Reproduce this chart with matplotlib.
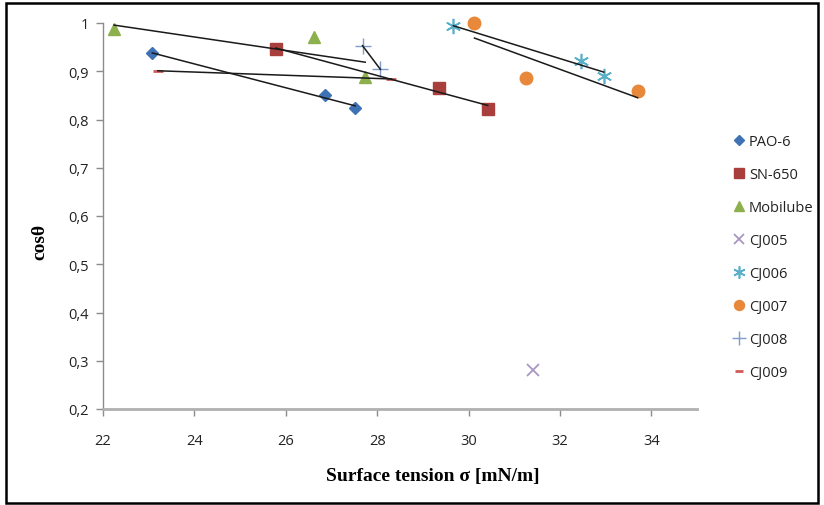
import matplotlib
matplotlib.use("Agg")
import matplotlib.pyplot as plt
import numpy as np
from matplotlib.patches import Rectangle

# Data
pao6_x = [23.08, 26.85, 27.52]
pao6_y = [0.937, 0.851, 0.823]
sn650_x = [25.78, 29.35, 30.42]
sn650_y = [0.946, 0.866, 0.822]
mob_x = [22.24, 26.61, 27.74]
mob_y = [0.988, 0.972, 0.889]
cj005_x = [31.40]
cj005_y = [0.281]
cj006_x = [29.67, 32.47, 32.96]
cj006_y = [0.993, 0.921, 0.891]
cj007_x = [30.13, 31.25, 33.70]
cj007_y = [0.999, 0.886, 0.859]
cj008_x = [27.68, 28.07]
cj008_y = [0.953, 0.904]
cj009_x = [23.20, 28.31]
cj009_y = [0.901, 0.884]

x_ticks = [22, 24, 26, 28, 30, 32, 34]
y_ticks = [0.2, 0.3, 0.4, 0.5, 0.6, 0.7, 0.8, 0.9, 1.0]
y_labels = ["0,2", "0,3", "0,4", "0,5", "0,6", "0,7", "0,8", "0,9", "1"]

fig = plt.figure(figsize=(8.24, 5.06), dpi=100)
ax = fig.add_axes([103/824, 1-410/506, (697-103)/824, (410-24)/506])

series = [
    ("PAO-6", pao6_x, pao6_y, dict(marker="D", color="#3F72B5", ms=6.5, mec="#3F72B5"), True),
    ("SN-650", sn650_x, sn650_y, dict(marker="s", color="#A83F3C", ms=9, mec="#A83F3C"), True),
    ("Mobilube", mob_x, mob_y, dict(marker="^", color="#8DB04F", ms=9, mec="#8DB04F"), True),
    ("CJ005", cj005_x, cj005_y, dict(marker="x", color="#A897C4", ms=9, mew=1.3), False),
    ("CJ006", cj006_x, cj006_y, dict(marker=(6, 2, 0), color="#5AAFC9", ms=11, mew=1.2), True),
    ("CJ007", cj007_x, cj007_y, dict(marker="o", color="#E8883A", ms=9, mec="#E8883A"), True),
    ("CJ008", cj008_x, cj008_y, dict(marker="+", color="#7F9CCB", ms=12, mew=1.0), True),
    ("CJ009", cj009_x, cj009_y, dict(marker="_", color="#D05A5A", ms=7, mew=2), True),
]

for name, xs, ys, style, trend in series:
    ax.plot(xs, ys, linestyle="none", label=name, **style)

for name, xs, ys, style, trend in series:
    if trend and len(xs) >= 2:
        xa = np.array(xs); ya = np.array(ys)
        k, b = np.polyfit(xa, ya, 1)
        xx = np.array([xa.min(), xa.max()])
        ax.plot(xx, k*xx + b, color="#1a1a1a", lw=1.1, zorder=3)

ax.set_xlim(22, 35)
ax.set_ylim(0.2, 1.0)
ax.set_xticks(x_ticks)
ax.set_xticklabels([str(t) for t in x_ticks])
ax.set_yticks(y_ticks)
ax.set_yticklabels(y_labels)

for s in ["top", "right"]:
    ax.spines[s].set_visible(False)
ax.spines["left"].set_color("#8c8c8c")
ax.spines["left"].set_linewidth(1.0)
ax.spines["bottom"].set_color("#b0b0b0")
ax.spines["bottom"].set_linewidth(2.0)
ax.tick_params(axis="both", colors="#8c8c8c", length=5, width=1.0,
               labelcolor="#222222", labelsize=10.5)
ax.tick_params(axis="x", pad=12)
ax.tick_params(axis="y", pad=5)
for lab in ax.get_xticklabels() + ax.get_yticklabels():
    lab.set_family("Open Sans")
for l in ax.lines:
    l.set_clip_on(False)

leg = ax.legend(loc="upper left", bbox_to_anchor=((727-103)/(697-103), 1-(129-24)/386),
                frameon=False, handlelength=0.8, handletextpad=0.3,
                labelspacing=1.24, prop={"family": "Open Sans", "size": 10.5},
                borderaxespad=0, markerscale=0.8)
for t in leg.get_texts():
    t.set_color("#222222")

fig.text(433/824, 1-477/506, "Surface tension σ [mN/m]", ha="center", va="center",
         family="Liberation Serif", weight="bold", fontsize=14)
fig.text(40/824, 1-242/506, "cosθ", ha="center", va="center", rotation=90,
         family="Liberation Serif", weight="bold", fontsize=14)

fig.patches.append(Rectangle((6/824, 2/506), 812/824, 500/506, transform=fig.transFigure,
                             fill=False, edgecolor="black", lw=1.8))

fig.savefig("out.png", dpi=100)
